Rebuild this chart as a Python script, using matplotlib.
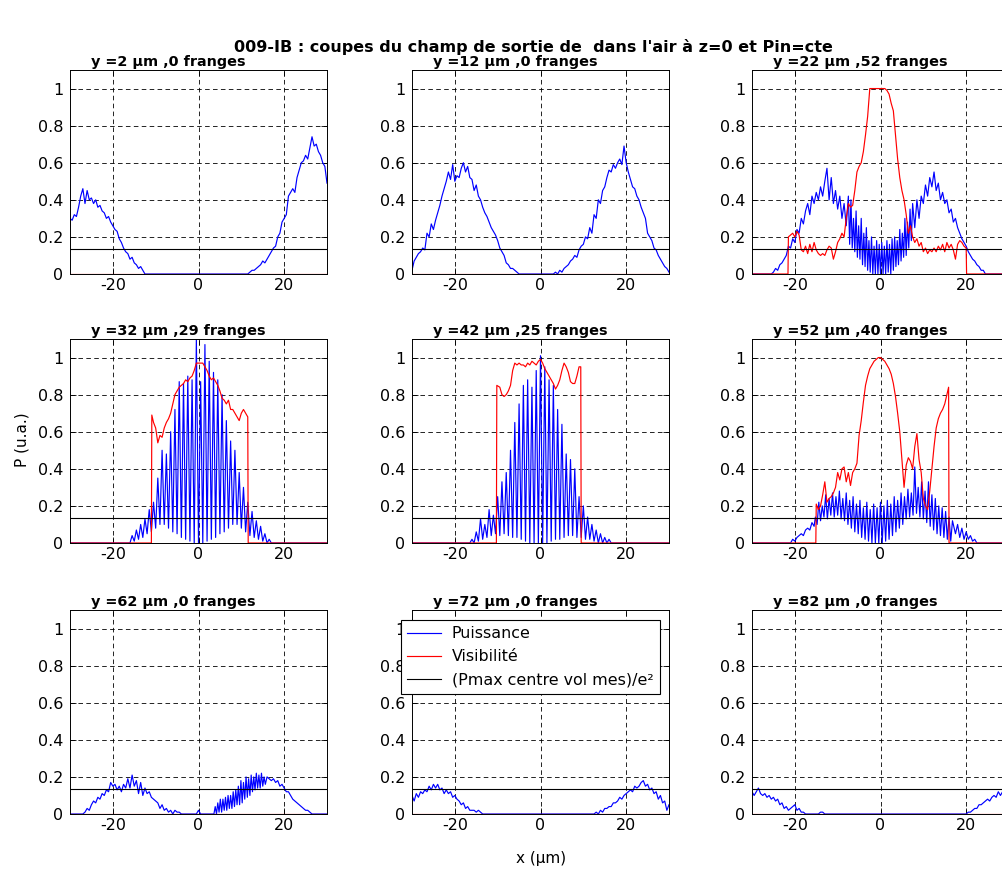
import numpy as np
import matplotlib
matplotlib.use("Agg")
import matplotlib.pyplot as plt

plt.rcParams['font.family'] = ['DejaVu Sans']

SUPTITLE = "009-IB : coupes du champ de sortie de  dans l'air à z=0 et Pin=cte"
Y_POS = [2, 12, 22, 32, 42, 52, 62, 72, 82]
N_FRANGES = [0, 0, 52, 29, 25, 40, 0, 0, 0]
SEUIL = 0.1353  # (Pmax centre vol mes)/e^2
X_TICKS = [-20, 0, 20]
X_TICKLABELS = ['-20', '0', '20']
Y_TICKS = [0, 0.2, 0.4, 0.6, 0.8, 1.0]
Y_TICKLABELS = ['0', '0.2', '0.4', '0.6', '0.8', '1']
LEGEND_LABELS = ['Puissance', 'Visibilité', '(Pmax centre vol mes)/e²']

# ---- Puissance (blue) : segments (x start, x step, values) ----
# y = 2
P02_L = [0.30, 0.29, 0.32, 0.31, 0.36, 0.42, 0.46, 0.38, 0.45, 0.40,
         0.41, 0.38, 0.40, 0.36, 0.37, 0.34, 0.33, 0.30, 0.31, 0.28,
         0.26, 0.24, 0.23, 0.19, 0.17, 0.14, 0.12, 0.11, 0.08, 0.09,
         0.06, 0.05, 0.03, 0.04, 0.02, 0.0]
P02_R = [0.0, 0.01, 0.02, 0.02, 0.03, 0.04, 0.05, 0.07, 0.06, 0.08,
         0.10, 0.12, 0.14, 0.15, 0.20, 0.22, 0.28, 0.30, 0.32, 0.42,
         0.44, 0.46, 0.44, 0.52, 0.56, 0.60, 0.61, 0.64, 0.62, 0.68,
         0.74, 0.69, 0.70, 0.66, 0.64, 0.60, 0.58, 0.49]
# y = 12
P12_L = [0.02, 0.07, 0.09, 0.11, 0.12, 0.14, 0.13, 0.22, 0.20, 0.27,
         0.24, 0.29, 0.33, 0.37, 0.42, 0.46, 0.50, 0.55, 0.51, 0.59,
         0.50, 0.53, 0.52, 0.57, 0.60, 0.55, 0.58, 0.52, 0.51, 0.45,
         0.48, 0.42, 0.40, 0.36, 0.33, 0.31, 0.28, 0.25, 0.23, 0.21,
         0.18, 0.14, 0.12, 0.10, 0.06, 0.05, 0.03, 0.03, 0.02, 0.01, 0.0]
P12_R = [0.0, 0.01, 0.0, 0.02, 0.01, 0.03, 0.04, 0.05, 0.07, 0.08,
         0.10, 0.09, 0.13, 0.15, 0.16, 0.20, 0.19, 0.25, 0.22, 0.32,
         0.30, 0.40, 0.38, 0.45, 0.47, 0.52, 0.56, 0.55, 0.59, 0.57,
         0.60, 0.62, 0.59, 0.69, 0.60, 0.55, 0.51, 0.47, 0.46, 0.42,
         0.40, 0.36, 0.33, 0.30, 0.22, 0.20, 0.18, 0.14, 0.13, 0.10,
         0.08, 0.06, 0.04, 0.03, 0.01]
# y = 22
P22_A = [0.0, 0.01, 0.03, 0.02, 0.05, 0.06, 0.08, 0.10, 0.15, 0.14,
         0.19, 0.17, 0.24, 0.22, 0.30, 0.27, 0.34, 0.38, 0.32, 0.42,
         0.38, 0.44, 0.40, 0.47, 0.42, 0.50, 0.57, 0.40, 0.52, 0.38,
         0.45, 0.35, 0.42, 0.30, 0.38, 0.26, 0.42]
P22_B = [0.16, 0.40, 0.14, 0.30, 0.12, 0.34, 0.09, 0.26, 0.08, 0.30,
         0.05, 0.22, 0.04, 0.25, 0.02, 0.18, 0.01, 0.20, 0.0, 0.15,
         0.0, 0.18, 0.0, 0.16, 0.0, 0.17, 0.0, 0.15, 0.0, 0.18,
         0.01, 0.16, 0.0, 0.19, 0.02, 0.20, 0.04, 0.18, 0.05, 0.24,
         0.07, 0.22, 0.09, 0.30, 0.10, 0.28, 0.14, 0.35, 0.18]
P22_C = [0.38, 0.25, 0.40, 0.30, 0.42, 0.38, 0.48, 0.42, 0.52, 0.47,
         0.55, 0.45, 0.49, 0.40, 0.44, 0.38, 0.40, 0.33, 0.35, 0.28,
         0.30, 0.25, 0.22, 0.19, 0.17, 0.15, 0.12, 0.10, 0.08, 0.07,
         0.05, 0.04, 0.02, 0.02, 0.0]
# y = 32
P32 = [0.0, 0.04, 0.01, 0.07, 0.02, 0.10, 0.03, 0.13, 0.05, 0.18,
       0.06, 0.22, 0.08, 0.35, 0.10, 0.50, 0.10, 0.48, 0.08, 0.60,
       0.06, 0.72, 0.05, 0.87, 0.03, 0.86, 0.02, 0.90, 0.01, 0.88,
       0.0, 1.10, 0.0, 0.87, 0.0, 1.07, 0.01, 0.98, 0.02, 0.92,
       0.03, 0.88, 0.05, 0.80, 0.06, 0.66, 0.08, 0.55, 0.10, 0.50,
       0.10, 0.38, 0.08, 0.30, 0.06, 0.22, 0.04, 0.17, 0.03, 0.12,
       0.02, 0.09, 0.01, 0.05, 0.0, 0.02, 0.0]
# y = 42
P42 = [0.0, 0.02, 0.0, 0.06, 0.01, 0.13, 0.02, 0.10, 0.03, 0.18,
       0.04, 0.15, 0.05, 0.25, 0.04, 0.33, 0.05, 0.38, 0.04, 0.50,
       0.03, 0.65, 0.03, 0.75, 0.02, 0.85, 0.01, 0.88, 0.0, 0.84,
       0.0, 0.93, 0.0, 1.01, 0.0, 0.95, 0.0, 0.88, 0.01, 0.85,
       0.02, 0.72, 0.02, 0.64, 0.03, 0.48, 0.04, 0.45, 0.04, 0.40,
       0.03, 0.25, 0.03, 0.20, 0.02, 0.14, 0.02, 0.10, 0.01, 0.07,
       0.0, 0.05, 0.0, 0.03, 0.0, 0.02, 0.0]
# y = 52
P52_A = [0.0, 0.02, 0.01, 0.03, 0.04, 0.05, 0.04, 0.07, 0.08, 0.07,
         0.11, 0.09]
P52_B = [0.14, 0.10, 0.22, 0.12, 0.20, 0.14, 0.26, 0.13, 0.24, 0.15,
         0.27, 0.14, 0.25, 0.15, 0.28, 0.13, 0.24, 0.12, 0.27, 0.10,
         0.23, 0.08, 0.25, 0.06, 0.21, 0.05, 0.23, 0.03, 0.19, 0.02,
         0.22, 0.01, 0.18, 0.0, 0.21, 0.0, 0.19, 0.0, 0.22, 0.0,
         0.20, 0.01, 0.23, 0.02, 0.21, 0.04, 0.25, 0.06, 0.23, 0.08,
         0.27, 0.10, 0.25, 0.13, 0.29, 0.14, 0.27, 0.15, 0.41, 0.16,
         0.30, 0.14, 0.33, 0.13, 0.28, 0.11, 0.33, 0.09, 0.26, 0.07,
         0.24, 0.05, 0.20, 0.04, 0.19, 0.03, 0.17, 0.02, 0.14, 0.01,
         0.12]
P52_C = [0.05, 0.10, 0.03, 0.08, 0.02, 0.06, 0.02, 0.04, 0.01, 0.02, 0.0]
# y = 62
P62_L = [0.0, 0.01, 0.03, 0.02, 0.05, 0.07, 0.06, 0.09, 0.08, 0.11,
         0.10, 0.13, 0.12, 0.17, 0.15, 0.16, 0.13, 0.15, 0.12, 0.16,
         0.14, 0.19, 0.14, 0.21, 0.15, 0.18, 0.11, 0.17, 0.10, 0.14,
         0.11, 0.12, 0.09, 0.08, 0.07, 0.06, 0.03, 0.05, 0.02, 0.03,
         0.01, 0.02, 0.0, 0.02, 0.01, 0.01, 0.0]
P62_M = [0.0, 0.02, 0.0]
P62_R = [0.0, 0.04, 0.0, 0.06, 0.01, 0.08, 0.01, 0.08, 0.02, 0.09,
         0.02, 0.10, 0.03, 0.10, 0.03, 0.12, 0.04, 0.13, 0.05, 0.15,
         0.05, 0.18, 0.06, 0.17, 0.08, 0.20, 0.09, 0.19, 0.10, 0.21,
         0.12, 0.20, 0.13, 0.22, 0.14, 0.21, 0.14, 0.22, 0.15, 0.20,
         0.16]
P62_S = [0.20, 0.19, 0.18, 0.19, 0.17, 0.18, 0.15, 0.16, 0.14, 0.12,
         0.12, 0.10, 0.08, 0.07, 0.06, 0.05, 0.04, 0.03, 0.02, 0.02,
         0.01, 0.0]
# y = 72
P72_L = [0.10, 0.07, 0.11, 0.09, 0.12, 0.11, 0.13, 0.12, 0.15, 0.13,
         0.16, 0.14, 0.16, 0.13, 0.14, 0.11, 0.13, 0.11, 0.12, 0.09,
         0.10, 0.08, 0.07, 0.05, 0.06, 0.03, 0.04, 0.02, 0.02, 0.02,
         0.01, 0.02, 0.01, 0.0]
P72_R = [0.0, 0.01, 0.0, 0.02, 0.01, 0.03, 0.03, 0.04, 0.04, 0.06,
         0.06, 0.07, 0.09, 0.08, 0.10, 0.11, 0.12, 0.13, 0.12, 0.15,
         0.14, 0.15, 0.17, 0.18, 0.15, 0.16, 0.13, 0.14, 0.11, 0.12,
         0.08, 0.10, 0.06, 0.07, 0.02, 0.05]
# y = 82
P82_L = [0.12, 0.10, 0.12, 0.14, 0.11, 0.10, 0.11, 0.09, 0.10, 0.08,
         0.09, 0.07, 0.08, 0.05, 0.06, 0.03, 0.04, 0.02, 0.03, 0.04,
         0.05, 0.02, 0.03, 0.01, 0.01, 0.0]
P82_M = [0.0, 0.01, 0.01, 0.0]
P82_R = [0.0, 0.01, 0.01, 0.02, 0.03, 0.03, 0.05, 0.05, 0.06, 0.07,
         0.08, 0.07, 0.09, 0.10, 0.09, 0.12, 0.10, 0.12, 0.13, 0.12, 0.14]

# ---- Visibilité (red) ----
V_ZERO = [0.0, 0.0]
V22_J1 = [0.0, 0.20]
V22 = [0.20, 0.21, 0.22, 0.20, 0.23, 0.21, 0.13, 0.12, 0.15, 0.11,
       0.16, 0.12, 0.17, 0.13, 0.11, 0.10, 0.11, 0.10, 0.13, 0.15,
       0.14, 0.08, 0.12, 0.17, 0.19, 0.22, 0.20, 0.30, 0.38, 0.36,
       0.37, 0.45, 0.55, 0.58, 0.60, 0.66, 0.75, 0.85, 1.0, 1.0,
       1.0, 1.0, 1.0, 1.0, 1.0, 1.0, 0.99, 0.97, 0.92, 0.88,
       0.75, 0.62, 0.52, 0.45, 0.40, 0.32, 0.22, 0.26, 0.20, 0.17,
       0.19, 0.15, 0.17, 0.12, 0.14, 0.11, 0.13, 0.12, 0.14, 0.12,
       0.15, 0.13, 0.16, 0.12, 0.17, 0.14, 0.16, 0.13, 0.08, 0.16,
       0.18, 0.17, 0.15]
V22_J2 = [0.14, 0.0]
V32_J1 = [0.0, 0.69]
V32 = [0.65, 0.62, 0.54, 0.58, 0.57, 0.62, 0.65, 0.67, 0.70, 0.75,
       0.80, 0.82, 0.84, 0.85, 0.86, 0.88, 0.87, 0.89, 0.90, 0.93,
       0.97, 0.97, 0.97, 0.97, 0.95, 0.93, 0.90, 0.88, 0.89, 0.87,
       0.85, 0.82, 0.78, 0.77, 0.75, 0.77, 0.72, 0.72, 0.70, 0.68,
       0.66, 0.70, 0.72, 0.70, 0.68]
V32_J2 = [0.0]
V42_J1 = [0.0, 0.85]
V42 = [0.84, 0.80, 0.79, 0.80, 0.82, 0.85, 0.93, 0.97, 0.96, 0.97,
       0.96, 0.96, 0.95, 0.97, 0.96, 0.98, 0.97, 0.96, 0.98, 0.99,
       0.97, 0.94, 0.92, 0.90, 0.88, 0.86, 0.83, 0.85, 0.88, 0.93,
       0.97, 0.95, 0.92, 0.87, 0.86, 0.86, 0.90, 0.95]
V42_J2 = [0.95, 0.0]
V52_J1 = [0.0, 0.21]
V52 = [0.18, 0.20, 0.26, 0.33, 0.22, 0.24, 0.25, 0.27, 0.30, 0.38,
       0.34, 0.40, 0.41, 0.33, 0.38, 0.31, 0.38, 0.40, 0.43, 0.58,
       0.66, 0.76, 0.85, 0.90, 0.94, 0.96, 0.98, 0.99, 1.0, 1.0,
       0.99, 0.98, 0.96, 0.94, 0.91, 0.86, 0.79, 0.70, 0.60, 0.45,
       0.30, 0.42, 0.46, 0.44, 0.40, 0.52, 0.59, 0.45, 0.38, 0.24,
       0.20, 0.18, 0.28, 0.40, 0.52, 0.62, 0.67, 0.70, 0.72, 0.75,
       0.80]
V52_J2 = [0.84, 0.0]

BLUE_SEGS = [
    [(-30.0, 0.5, P02_L), (11.5, 0.5, P02_R)],
    [(-30.0, 0.5, P12_L), (3.0, 0.5, P12_R)],
    [(-25.5, 0.5, P22_A), (-7.2, 0.3, P22_B), (7.5, 0.5, P22_C)],
    [(-16.0, 0.5, P32)],
    [(-16.5, 0.5, P42)],
    [(-21.0, 0.5, P52_A), (-15.2, 0.4, P52_B), (17.5, 0.5, P52_C)],
    [(-27.0, 0.5, P62_L), (-0.5, 0.5, P62_M), (3.6, 0.3, P62_R), (16.0, 0.5, P62_S)],
    [(-30.0, 0.5, P72_L), (12.5, 0.5, P72_R)],
    [(-30.0, 0.5, P82_L), (-14.5, 0.5, P82_M), (20.0, 0.5, P82_R)],
]
RED_SEGS = [
    [(-30.0, 60.0, V_ZERO)],
    [(-30.0, 60.0, V_ZERO)],
    [(-21.6, 0.1, V22_J1), (-21.5, 0.5, V22), (20.0, 0.1, V22_J2)],
    [(-11.0, 0.1, V32_J1), (-10.5, 0.5, V32), (11.6, 0.1, V32_J2)],
    [(-10.3, 0.1, V42_J1), (-9.5, 0.5, V42), (9.4, 0.1, V42_J2)],
    [(-15.1, 0.1, V52_J1), (-14.5, 0.5, V52), (15.9, 0.1, V52_J2)],
    [(-30.0, 60.0, V_ZERO)],
    [(-30.0, 60.0, V_ZERO)],
    [(-30.0, 60.0, V_ZERO)],
]


def build(segs):
    xs, ys = [], []
    for start, step, vals in segs:
        xs.extend(start + step * np.arange(len(vals)))
        ys.extend(vals)
    if xs[0] > -30:
        xs.insert(0, -30.0); ys.insert(0, 0.0)
    if xs[-1] < 30:
        xs.append(30.0); ys.append(0.0)
    return np.array(xs), np.array(ys)


W, H = 1002, 869
fig = plt.figure(figsize=(W / 100, H / 100), dpi=100)
fig.patch.set_facecolor('white')

col_left = [70, 412, 752]
row_top = [70, 339, 610]
aw, ah = 257, 204

axes = []
for i in range(9):
    r, c = divmod(i, 3)
    ax = fig.add_axes([col_left[c] / W, 1 - (row_top[r] + ah) / H, aw / W, ah / H])
    axes.append(ax)
    xb, yb = build(BLUE_SEGS[i])
    xr, yr = build(RED_SEGS[i])
    hb, = ax.plot(xb, yb, color='#0000ff', lw=0.85)
    hr, = ax.plot(xr, yr, color='#ff0000', lw=0.85)
    hk = ax.axhline(SEUIL, color='black', lw=0.8)
    ax.set_xlim(-30, 30)
    ax.set_ylim(0, 1.1)
    ax.set_xticks(X_TICKS)
    ax.set_xticklabels(X_TICKLABELS)
    ax.set_yticks(Y_TICKS)
    ax.set_yticklabels(Y_TICKLABELS)
    ax.tick_params(direction='in', length=4, width=0.6, top=True, right=True,
                   labelsize=11.5, colors='black')
    ax.tick_params(axis='x', pad=3)
    ax.tick_params(axis='y', pad=5)
    ax.grid(True, color='black', linestyle=(0, (5.5, 4)), lw=0.6)
    for s in ax.spines.values():
        s.set_linewidth(0.7)
    ax.text(0.08, 1.0 + 4 / ah, f"y ={Y_POS[i]} µm ,{N_FRANGES[i]} franges",
            transform=ax.transAxes, ha='left', va='baseline',
            fontsize=10.4, fontweight='bold')
    if i == 7:
        handles = [hb, hr, hk]

fig.text(533 / W, 1 - 47 / H, SUPTITLE, ha='center', va='center',
         fontsize=11.5, fontweight='bold')
fig.text(22 / W, 1 - 440 / H, 'P (u.a.)', rotation=90, ha='center', va='center', fontsize=11)
fig.text(541 / W, 1 - 858 / H, 'x (µm)', ha='center', va='center', fontsize=11)

leg = fig.legend(handles, LEGEND_LABELS, loc='upper left',
                 bbox_to_anchor=(401 / W, 1 - 620 / H), borderaxespad=0,
                 fontsize=11.4, frameon=True, fancybox=False, framealpha=1,
                 edgecolor='black', handlelength=2.1, handletextpad=0.7,
                 labelspacing=0.5, borderpad=0.4)
leg.get_frame().set_linewidth(0.8)

fig.savefig('out.png', dpi=100, facecolor='white')
